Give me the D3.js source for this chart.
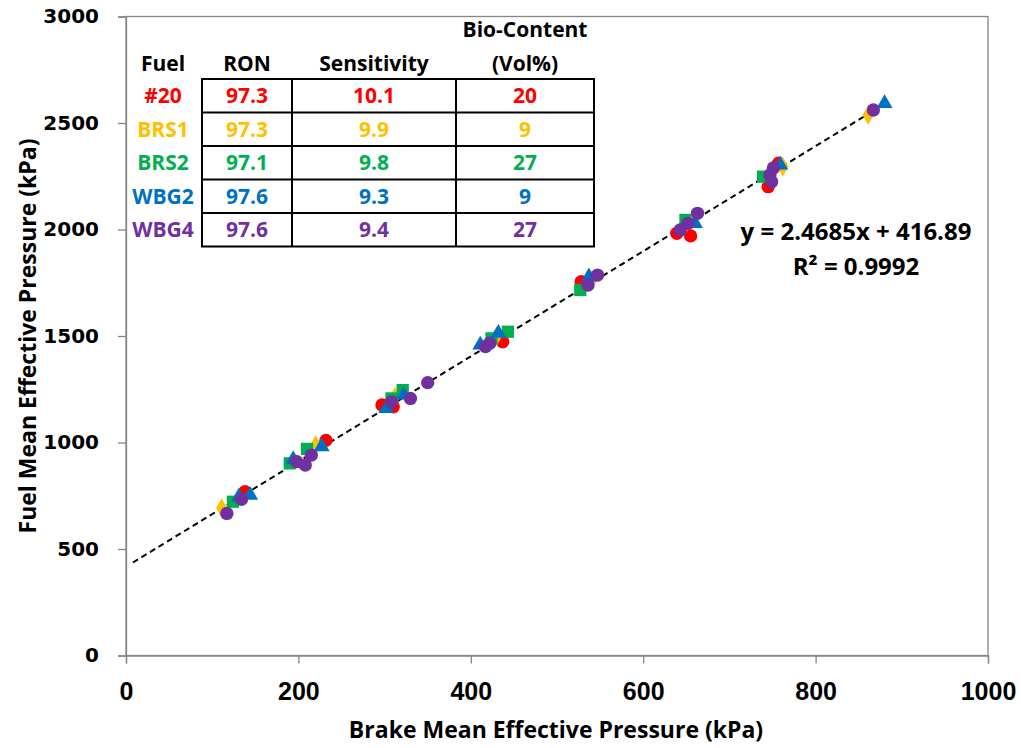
<!DOCTYPE html>
<html><head><meta charset="utf-8">
<script src="https://cdn.jsdelivr.net/npm/d3@7"></script>
<style>
html,body{margin:0;padding:0;background:#fff;}
svg{display:block;}
</style></head>
<body>
<svg id="chart" width="1021" height="748"></svg>
<script>
// ---- data ----
const fuels = ["#20", "BRS1", "BRS2", "WBG2", "WBG4"];
const colors = ["#FF0000", "#FFC000", "#00B050", "#0070C0", "#7030A0"];
const shapes = ["circle", "diamond", "square", "triangle", "circle"];
const ron = ["97.3", "97.3", "97.1", "97.6", "97.6"];
const sensitivity = ["10.1", "9.9", "9.8", "9.3", "9.4"];
const bioContent = ["20", "9", "27", "9", "27"];
const tableHeaders = ["Fuel", "RON", "Sensitivity", "(Vol%)"];

// BMEP (kPa), FMEP (kPa)
const fuel20 = [[138,769],[232,1010],[297,1176],[310,1168],[437,1473],[528,1755],[639,1982],[655,1970],[757,2311],[745,2201]];
const brs1 = [[111,692],[220,988],[312,1215],[430,1500],[540,1760],[650,2030],[762,2295],[861,2538]];
const brs2 = [[124,722],[190,902],[210,970],[308,1207],[321,1246],[424,1489],[443,1520],[527,1716],[649,2045],[739,2248]];
const wbg2 = [[131,745],[144,753],[194,920],[227,981],[302,1160],[322,1223],[411,1458],[432,1513],[537,1778],[660,2029],[759,2303],[880,2592]];
const wbg4 = [[117,667],[134,733],[198,910],[208,894],[215,941],[308,1191],[330,1207],[350,1281],[417,1450],[422,1466],[536,1739],[547,1786],[643,1998],[652,2029],[663,2076],[747,2256],[749,2224],[751,2289],[867,2561]];
const seriesData = [fuel20, brs1, brs2, wbg2, wbg4];

const slope = 2.4685, intercept = 416.89;
const trendRange = [8, 880];
const eqText = "y = 2.4685x + 416.89";
const r2Text = "R² = 0.9992";
const xTicks = [0, 200, 400, 600, 800, 1000];
const yTicks = [0, 500, 1000, 1500, 2000, 2500, 3000];
const xTitle = "Brake Mean Effective Pressure (kPa)";
const yTitle = "Fuel Mean Effective Pressure (kPa)";

// ---- layout ----
const svg = d3.select("#chart");
const L = 126, R = 988, T = 16.5, B = 655.5;
const x = d3.scaleLinear().domain([0, 1000]).range([L, R]);
const y = d3.scaleLinear().domain([0, 3000]).range([B, T]);
const axisColor = "#868686";
const font = "'Open Sans', 'Liberation Sans', sans-serif";

// plot border
svg.append("rect").attr("x", L).attr("y", T).attr("width", R - L).attr("height", B - T)
  .attr("fill", "none").attr("stroke", axisColor).attr("stroke-width", 1.3);

// axes
const xAxis = svg.append("g").attr("transform", `translate(0,${B})`)
  .call(d3.axisBottom(x).tickValues(xTicks).tickSize(8).tickPadding(17).tickFormat(d3.format("d")));
const yAxis = svg.append("g").attr("transform", `translate(${L},0)`)
  .call(d3.axisLeft(y).tickValues(yTicks).tickSize(8).tickPadding(19).tickFormat(d3.format("d")));
[xAxis, yAxis].forEach(g => {
  g.select(".domain").attr("stroke", axisColor).attr("stroke-width", 1.3);
  g.selectAll(".tick line").attr("stroke", axisColor).attr("stroke-width", 1.3);
});
xAxis.selectAll(".tick text")
  .attr("fill", "#000").attr("y", 44.5).attr("dy", null)
  .style("font-family", "'Liberation Sans', sans-serif")
  .style("font-weight", "bold").style("font-size", "25px");
yAxis.selectAll("text").attr("fill", "#000")
  .style("font-family", "'DejaVu Sans', sans-serif")
  .style("font-weight", "bold").style("font-size", "20px");

// axis titles
svg.append("text").attr("x", 556).attr("y", 738).attr("text-anchor", "middle")
  .style("font-family", font).style("font-weight", "bold").style("font-size", "23px")
  .text(xTitle);
svg.append("text").attr("transform", `translate(36,${336}) rotate(-90)`)
  .attr("text-anchor", "middle")
  .style("font-family", font).style("font-weight", "bold").style("font-size", "23px")
  .text(yTitle);

// trendline
svg.append("line")
  .attr("x1", x(trendRange[0])).attr("y1", y(slope * trendRange[0] + intercept))
  .attr("x2", x(trendRange[1])).attr("y2", y(slope * trendRange[1] + intercept))
  .attr("stroke", "#000").attr("stroke-width", 2).attr("stroke-dasharray", "6,4");

// markers
const symType = { circle: d3.symbolCircle, diamond: d3.symbolDiamond, square: d3.symbolSquare, triangle: d3.symbolTriangle };
const symSize = { circle: 140, diamond: 110, square: 150, triangle: 110 };
seriesData.forEach((data, i) => {
  const sym = d3.symbol().type(symType[shapes[i]]).size(symSize[shapes[i]]);
  svg.append("g").selectAll("path").data(data).enter().append("path")
    .attr("d", sym)
    .attr("transform", d => `translate(${x(d[0])},${y(d[1])})`)
    .attr("fill", colors[i]);
});

// equation
svg.append("text").attr("x", 856).attr("y", 240).attr("text-anchor", "middle")
  .style("font-family", font).style("font-weight", "bold").style("font-size", "24px").text(eqText);
svg.append("text").attr("x", 856).attr("y", 275).attr("text-anchor", "middle")
  .style("font-family", font).style("font-weight", "bold").style("font-size", "24px").text(r2Text);

// table
const tbl = svg.append("g");
const colEdges = [202, 292, 456, 594];
const rowEdges = [79, 112.5, 146, 179.5, 213, 246.5];
const fuelX = 163;
const colCenters = [fuelX, (colEdges[0] + colEdges[1]) / 2, (colEdges[1] + colEdges[2]) / 2, (colEdges[2] + colEdges[3]) / 2];
const tfs = "21px";
tbl.append("text").attr("x", colCenters[3]).attr("y", 37).attr("text-anchor", "middle")
  .style("font-family", font).style("font-weight", "bold").style("font-size", tfs).text("Bio-Content");
tableHeaders.forEach((h, j) => {
  tbl.append("text").attr("x", colCenters[j]).attr("y", 71).attr("text-anchor", "middle")
    .style("font-family", font).style("font-weight", "bold").style("font-size", tfs).text(h);
});
// grid
rowEdges.forEach(ry => tbl.append("line").attr("x1", colEdges[0] - 1).attr("x2", colEdges[3] + 1)
  .attr("y1", ry).attr("y2", ry).attr("stroke", "#000").attr("stroke-width", 2));
colEdges.forEach(cx => tbl.append("line").attr("x1", cx).attr("x2", cx)
  .attr("y1", rowEdges[0]).attr("y2", rowEdges[rowEdges.length - 1]).attr("stroke", "#000").attr("stroke-width", 2));
fuels.forEach((f, i) => {
  const cy = (rowEdges[i] + rowEdges[i + 1]) / 2 + 7.5;
  [f, ron[i], sensitivity[i], bioContent[i]].forEach((v, j) => {
    tbl.append("text").attr("x", colCenters[j]).attr("y", cy).attr("text-anchor", "middle")
      .attr("fill", colors[i])
      .style("font-family", font).style("font-weight", "bold").style("font-size", tfs).text(v);
  });
});
</script>
</body></html>
